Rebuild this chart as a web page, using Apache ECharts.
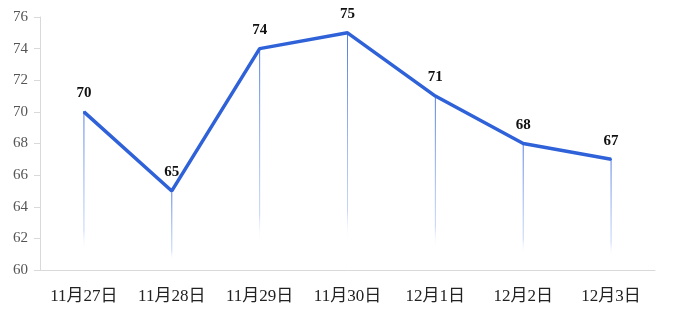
<!DOCTYPE html>
<html><head><meta charset="utf-8">
<script src="https://cdn.jsdelivr.net/npm/echarts@6/dist/echarts.min.js"></script>
<style>html,body{margin:0;padding:0;background:#fff}#c{width:676px;height:322px}</style>
</head><body><div id="c"></div>
<script>
const categories = ['11月27日','11月28日','11月29日','11月30日','12月1日','12月2日','12月3日'];
const values = [70, 65, 74, 75, 71, 68, 67];
const yMin = 60, yMax = 76, yInterval = 2;

const chart = echarts.init(document.getElementById('c'));
chart.setOption({
  animation: false,
  grid: {left: 40, right: 21, top: 17, bottom: 52},
  xAxis: {
    type: 'category', data: categories, boundaryGap: true,
    axisLine: {lineStyle: {color: '#d9d9d9'}},
    axisTick: {show: false},
    axisLabel: {color: '#222', fontSize: 17, fontFamily: '"Liberation Serif","Noto Sans CJK SC",serif', margin: 18}
  },
  yAxis: {
    type: 'value', min: yMin, max: yMax, interval: yInterval,
    axisLine: {show: true, lineStyle: {color: '#d9d9d9'}},
    axisTick: {show: true, length: 6, lineStyle: {color: '#d9d9d9'}},
    splitLine: {show: false},
    axisLabel: {color: '#555', fontSize: 15, fontFamily: '"Liberation Serif",serif', margin: 12}
  },
  series: [
    {
      type: 'bar', data: values, barWidth: 1, silent: true, z: 1,
      itemStyle: {color: new echarts.graphic.LinearGradient(0,0,0,1,[
        {offset: 0, color: 'rgba(60,110,220,0.9)'},
        {offset: 0.75, color: 'rgba(110,150,240,0.4)'},
        {offset: 0.88, color: 'rgba(255,255,255,0)'},
        {offset: 1, color: 'rgba(255,255,255,0)'}
      ])}
    },
    {
      type: 'line', data: values, symbol: 'circle', symbolSize: 2, showSymbol: true, z: 3,
      itemStyle: {color: '#2f62d8'},
      lineStyle: {color: '#2f62d8', width: 3.5},
      label: {show: true, position: 'top', distance: 10, color: '#111', fontSize: 15, fontWeight: 'bold', fontFamily: '"Liberation Serif",serif'}
    }
  ]
});
</script></body></html>
